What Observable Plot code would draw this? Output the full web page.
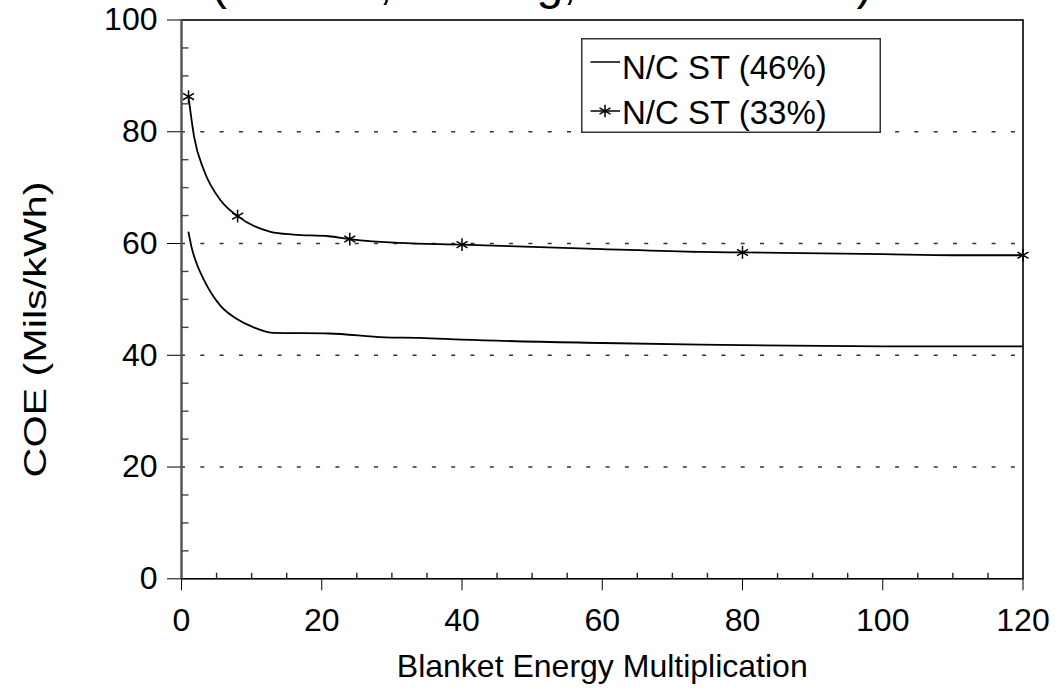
<!DOCTYPE html>
<html>
<head>
<meta charset="utf-8">
<script src="https://cdn.jsdelivr.net/npm/d3@7"></script>
<script src="https://cdn.jsdelivr.net/npm/@observablehq/plot@0.6"></script>
<style>
  html, body { margin: 0; padding: 0; background: #fff; }
  #wrap { position: relative; width: 1057px; height: 696px; overflow: hidden;
          font-family: "Liberation Sans", Arial, sans-serif; }
  #title { position: absolute; left: 0; top: 0; overflow: hidden; }
  #legend { position: absolute; left: 581px; top: 38px; }
</style>
</head>
<body>
<div id="wrap">
  <div id="chart"></div>
  <svg id="title" width="1057" height="40"></svg>
  <svg id="legend" width="300" height="95"></svg>
</div>
<script>
// Chart text
const titleText = "(N/C ST, Scaling, Fixed Power)";
const xLabel = "Blanket Energy Multiplication";
const yLabel = "COE (Mils/kWh)";
const seriesNames = ["N/C ST (46%)", "N/C ST (33%)"];

// Axis ticks
const xTicks = [0, 20, 40, 60, 80, 100, 120];
const yTicks = [0, 20, 40, 60, 80, 100];
const xMinor = [5, 10, 15, 25, 30, 35, 45, 50, 55, 65, 70, 75, 85, 90, 95, 105, 110, 115];
const yMinor = [5, 10, 15, 25, 30, 35, 45, 50, 55, 65, 70, 75, 85, 90, 95];
const gridY = [20, 40, 60, 80];

// N/C ST (46%) — COE vs blanket energy multiplication
const lowX = [1, 1.5, 2.2, 3.2, 4.3, 5.6, 7.9, 10.3, 13.2, 21, 29, 34, 40, 60, 74, 80, 100, 120];
const lowY = [62.0, 59.0, 56.3, 53.5, 51.0, 48.8, 46.5, 45.0, 44.0, 43.9, 43.2, 43.1, 42.8, 42.2, 41.9, 41.8, 41.6, 41.6];

// N/C ST (33%)
const highX = [1, 1.8, 3.2, 5.6, 8, 12.7, 16, 21, 24, 31, 40, 50, 60, 74, 80, 100, 110, 120];
const highY = [86.3, 79.1, 73.1, 67.7, 64.9, 62.1, 61.6, 61.3, 60.8, 60.1, 59.8, 59.4, 59.0, 58.5, 58.4, 58.1, 57.9, 57.9];
const markerX = [1, 8, 24, 40, 80, 120];

const low = lowX.map((x, i) => ({x, y: lowY[i]}));
const high = highX.map((x, i) => ({x, y: highY[i]}));
const highMarkers = high.filter(d => markerX.includes(d.x));

// short inward tick glyphs for the minor ticks
const tickUp = {draw(ctx) { ctx.moveTo(0, 0); ctx.lineTo(0, -6); }};
const tickRight = {draw(ctx) { ctx.moveTo(0, 0); ctx.lineTo(7, 0); }};

const chart = Plot.plot({
  width: 1057,
  height: 696,
  marginLeft: 181,
  marginRight: 34.5,
  marginTop: 19.5,
  marginBottom: 117.7,
  style: {
    fontFamily: "Liberation Sans, Arial, sans-serif",
    fontSize: "32px",
    color: "#000",
    background: "white"
  },
  x: {domain: [0, 120], ticks: xTicks, tickSize: 12, tickPadding: 17, label: null},
  y: {domain: [0, 100], ticks: yTicks, tickSize: 14, tickPadding: 10, label: null},
  marks: [
    Plot.ruleY(gridY, {stroke: "#333", strokeWidth: 1.4, strokeDasharray: "4 15.3"}),
    Plot.frame({stroke: "#000", strokeWidth: 1.6}),
    Plot.ruleX([0], {stroke: "#555", strokeWidth: 2}),
    Plot.dot(xMinor, {x: d => d, y: 0, symbol: tickUp, fill: "none", stroke: "#222", strokeWidth: 1.4}),
    Plot.dot(yMinor, {x: 0, y: d => d, symbol: tickRight, fill: "none", stroke: "#444", strokeWidth: 1.4}),
    Plot.line(low, {x: "x", y: "y", curve: "monotone-x", stroke: "#000", strokeWidth: 1.8}),
    Plot.line(high, {x: "x", y: "y", curve: "monotone-x", stroke: "#000", strokeWidth: 1.8}),
    Plot.dot(highMarkers, {x: "x", y: "y", symbol: "asterisk", r: 6, stroke: "#000", strokeWidth: 1.5}),
    Plot.text([xLabel], {frameAnchor: "bottom", text: d => d, dy: 98, fontSize: 32}),
    Plot.text([yLabel], {frameAnchor: "left", textAnchor: "middle", text: d => d, rotate: -90,
                         dx: -146, dy: 30, fontSize: 32})
  ]
});
document.getElementById("chart").appendChild(chart);

// the vertical axis title is set wide along its length
d3.select(chart).selectAll("text")
  .filter(function() { return this.textContent === yLabel; })
  .attr("textLength", 296)
  .attr("lengthAdjust", "spacingAndGlyphs");

// Heading, mostly above the page edge
d3.select("#title").append("text")
  .attr("x", 211).attr("y", -1)
  .attr("font-family", "Liberation Sans, Arial, sans-serif").attr("font-size", 48)
  .text(titleText);

// Legend box
const leg = d3.select("#legend");
leg.append("rect")
  .attr("x", 0.75).attr("y", 0.75).attr("width", 298.5).attr("height", 93.5)
  .attr("fill", "white").attr("stroke", "#333").attr("stroke-width", 1.5);
const rows = [{y: 24, base: 40.5, star: false}, {y: 73, base: 86, star: true}];
rows.forEach((r, i) => {
  leg.append("line").attr("x1", 9.5).attr("x2", 39).attr("y1", r.y).attr("y2", r.y)
    .attr("stroke", "#000").attr("stroke-width", 1.5);
  if (r.star) {
    leg.append("path").attr("d", d3.symbol(d3.symbolAsterisk, 6 * 6 * Math.PI)())
      .attr("transform", `translate(24,${r.y})`)
      .attr("fill", "none").attr("stroke", "#000").attr("stroke-width", 1.5);
  }
  leg.append("text").attr("x", 41).attr("y", r.base)
    .attr("font-family", "Liberation Sans, Arial, sans-serif").attr("font-size", 33)
    .text(seriesNames[i]);
});
</script>
</body>
</html>
